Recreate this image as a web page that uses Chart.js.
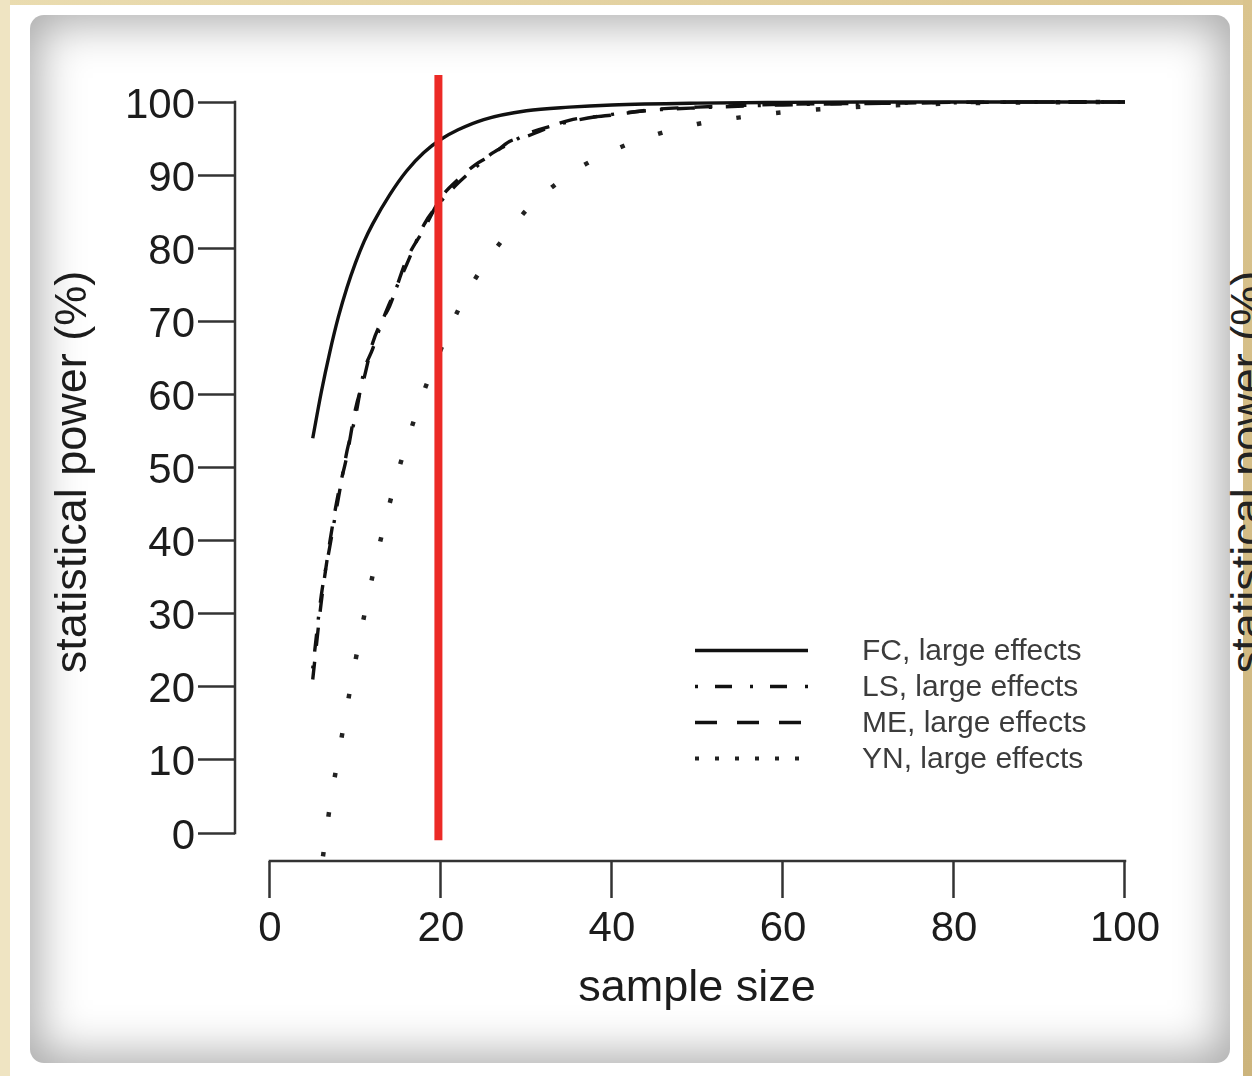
<!DOCTYPE html>
<html>
<head>
<meta charset="utf-8">
<title>Statistical power by sample size</title>
<script src="https://cdn.jsdelivr.net/npm/chart.js@4.4.1/dist/chart.umd.min.js"></script>
<style>
  html, body { margin: 0; padding: 0; width: 1252px; height: 1076px; overflow: hidden; background: #ffffff; }
  #frameTop { position: absolute; left: 0; top: 0; width: 1252px; height: 5px; background: linear-gradient(90deg, #eadcb0, #dcc792); }
  #frameLeft { position: absolute; left: 0; top: 0; width: 10px; height: 1076px; background: #efe4c2; }
  #frameRight { position: absolute; left: 1243px; top: 0; width: 9px; height: 1076px; background: linear-gradient(180deg, #dac48e, #ccb47c); }
  #paper { position: absolute; left: 30px; top: 15px; width: 1200px; height: 1048px; background: #ffffff;
           border-radius: 14px; box-shadow: inset 0 0 46px 8px rgba(0, 0, 0, 0.34); }
  #chart { position: absolute; left: 0; top: 0; }
  #nextLabel { position: absolute; left: 1040px; top: 446px; width: 414px; height: 52px; line-height: 52px;
               font: 45px "Liberation Sans", Arial, sans-serif; color: #222; text-align: center; white-space: nowrap;
               transform: rotate(-90deg); transform-origin: 50% 50%; }
</style>
</head>
<body>
<div id="frameTop"></div>
<div id="frameLeft"></div>
<div id="frameRight"></div>
<div id="paper"></div>
<div id="nextLabel">statistical power (%)</div>
<canvas id="chart" width="1252" height="1076"></canvas>
<script>
// Axis tick values
const xTickValues = [0, 20, 40, 60, 80, 100];
const yTickValues = [0, 10, 20, 30, 40, 50, 60, 70, 80, 90, 100];

// FC, large effects
const sampleFC = [5, 6, 7, 8, 9, 10, 11, 12, 14, 16, 18, 20, 22, 25, 30, 35, 40, 50, 60, 70, 80, 90, 100];
const powerFC  = [54.0, 60.3, 65.8, 70.6, 74.6, 78.0, 80.9, 83.3, 87.3, 90.6, 93.1, 94.9, 96.2, 97.6, 98.8, 99.3, 99.6, 99.85, 99.95, 100, 100, 100, 100];

// LS, large effects
const sampleLS = [5, 6, 7, 8, 9, 10, 11, 12, 13, 14, 16, 18, 20, 22, 24, 26, 28, 30, 35, 40, 45, 50, 60, 70, 80, 90, 100];
const powerLS  = [22.5, 32.5, 39.2, 45.8, 52.2, 57.0, 63.2, 66.2, 69.6, 72.5, 77.8, 83.2, 86.4, 88.9, 91.0, 93.0, 94.3, 95.6, 97.3, 98.3, 98.9, 99.2, 99.6, 99.8, 99.9, 100, 100];

// ME, large effects
const sampleME = [5, 6, 7, 8, 9, 10, 11, 12, 13, 14, 16, 18, 20, 22, 24, 26, 28, 30, 35, 40, 45, 50, 60, 70, 80, 90, 100];
const powerME  = [21.0, 31.6, 39.8, 46.5, 51.6, 58.0, 62.2, 67.0, 69.9, 72.1, 78.5, 82.6, 86.9, 89.4, 91.4, 92.8, 94.6, 95.3, 97.5, 98.2, 99.0, 99.3, 99.7, 99.8, 99.95, 100, 100];

// YN, large effects
const sampleYN = [6.2, 7, 8, 9, 10, 11, 12, 13, 14, 15, 16, 18, 20, 22, 24, 26, 28, 30, 35, 40, 45, 50, 55, 60, 70, 80, 90, 100];
const powerYN  = [-3.2, 3.6, 10.5, 17.2, 23.6, 29.6, 35.2, 40.4, 45.1, 49.5, 53.4, 60.4, 66.2, 71.5, 75.8, 79.3, 82.3, 85.2, 90.1, 93.3, 95.5, 97.0, 97.9, 98.6, 99.4, 99.8, 99.95, 100];

// Red marker at n = 20
const markerSample = [19.7, 19.7];
const markerPower  = [-1, 103.7];

const FONT = '"Liberation Sans", Arial, Helvetica, sans-serif';
Chart.defaults.font.family = FONT;
Chart.defaults.color = '#1c1c1c';

const toPoints = (xs, ys) => xs.map((v, i) => ({ x: v, y: ys[i] }));

// Axis lines that span only the tick range (detached-axis style)
const axisLines = {
  id: 'axisLines',
  beforeDatasetsDraw(chart) {
    const { ctx, chartArea, scales: { x, y } } = chart;
    ctx.save();
    ctx.strokeStyle = '#333';
    ctx.lineWidth = 2.5;
    ctx.lineCap = 'square';
    ctx.beginPath();
    ctx.moveTo(chartArea.left, y.getPixelForValue(yTickValues[yTickValues.length - 1]));
    ctx.lineTo(chartArea.left, y.getPixelForValue(yTickValues[0]));
    ctx.moveTo(x.getPixelForValue(xTickValues[0]), chartArea.bottom);
    ctx.lineTo(x.getPixelForValue(xTickValues[xTickValues.length - 1]), chartArea.bottom);
    ctx.stroke();
    ctx.restore();
  }
};

// Line-sample legend placed inside the plot
const lineLegend = {
  id: 'lineLegend',
  afterDraw(chart, args, opts) {
    const { ctx } = chart;
    ctx.save();
    ctx.font = opts.fontSize + 'px ' + FONT;
    ctx.textBaseline = 'middle';
    ctx.textAlign = 'left';
    let row = 0;
    chart.data.datasets.forEach(ds => {
      if (!ds.label) return;
      const yy = opts.top + row * opts.rowGap;
      ctx.strokeStyle = ds.borderColor;
      ctx.lineWidth = ds.legendWidth || ds.borderWidth;
      ctx.lineCap = 'butt';
      ctx.setLineDash(ds.legendDash || ds.borderDash || []);
      ctx.beginPath();
      ctx.moveTo(opts.lineStart, yy);
      ctx.lineTo(opts.lineEnd, yy);
      ctx.stroke();
      ctx.setLineDash([]);
      ctx.fillStyle = opts.color;
      ctx.fillText(ds.label, opts.textX, yy + 1);
      row++;
    });
    ctx.restore();
  }
};

new Chart(document.getElementById('chart'), {
  type: 'line',
  data: {
    datasets: [
      {
        data: toPoints(markerSample, markerPower),
        borderColor: '#ec2a26', borderWidth: 8, borderCapStyle: 'butt',
        pointRadius: 0, clip: false, order: 0
      },
      {
        label: 'FC, large effects',
        data: toPoints(sampleFC, powerFC),
        borderColor: '#111', borderWidth: 3.4, pointRadius: 0,
        cubicInterpolationMode: 'monotone', order: 1
      },
      {
        label: 'LS, large effects',
        data: toPoints(sampleLS, powerLS),
        borderColor: '#111', borderWidth: 3.4, pointRadius: 0,
        borderDash: [3, 14, 18, 14], legendDash: [3, 17, 17, 18],
        cubicInterpolationMode: 'monotone', order: 2
      },
      {
        label: 'ME, large effects',
        data: toPoints(sampleME, powerME),
        borderColor: '#111', borderWidth: 3.4, pointRadius: 0,
        borderDash: [18, 16], legendDash: [22, 20],
        cubicInterpolationMode: 'monotone', order: 3
      },
      {
        label: 'YN, large effects',
        data: toPoints(sampleYN, powerYN),
        borderColor: '#222', borderWidth: 4.5, pointRadius: 0, legendWidth: 4,
        borderDash: [4.5, 35.5], legendDash: [4, 16],
        cubicInterpolationMode: 'monotone', order: 4
      }
    ]
  },
  options: {
    responsive: false,
    animation: false,
    devicePixelRatio: 1,
    layout: { padding: { left: 0, top: 83, right: 92.8, bottom: 56 } },
    scales: {
      x: {
        type: 'linear', position: 'bottom',
        min: -4.09, max: 104,
        afterFit(scale) { scale.height = 159; },
        afterBuildTicks(scale) { scale.ticks = xTickValues.map(v => ({ value: v })); },
        ticks: { font: { size: 42 }, color: '#1c1c1c', padding: 6, maxRotation: 0 },
        grid: { display: true, drawOnChartArea: false, drawTicks: true, tickLength: 37, tickWidth: 2.5, tickColor: '#333' },
        border: { display: false },
        title: { display: true, text: 'sample size', font: { size: 45 }, color: '#1c1c1c', padding: { top: 0, bottom: 4 } }
      },
      y: {
        type: 'linear', position: 'left',
        min: -3.83, max: 102.6,
        afterFit(scale) { scale.width = 235; },
        afterBuildTicks(scale) { scale.ticks = yTickValues.map(v => ({ value: v })); },
        ticks: { font: { size: 42 }, color: '#1c1c1c', padding: 3, labelOffset: 4 },
        grid: { display: true, drawOnChartArea: false, drawTicks: true, tickLength: 37, tickWidth: 2.5, tickColor: '#333' },
        border: { display: false },
        title: { display: true, text: 'statistical power (%)', font: { size: 45 }, color: '#1c1c1c', padding: { top: 47, bottom: 0 } }
      }
    },
    plugins: {
      legend: { display: false },
      tooltip: { enabled: false },
      lineLegend: { top: 650.5, rowGap: 36, lineStart: 695, lineEnd: 808, textX: 862, fontSize: 30, color: '#3c3c3c' }
    }
  },
  plugins: [axisLines, lineLegend]
});
</script>
</body>
</html>
